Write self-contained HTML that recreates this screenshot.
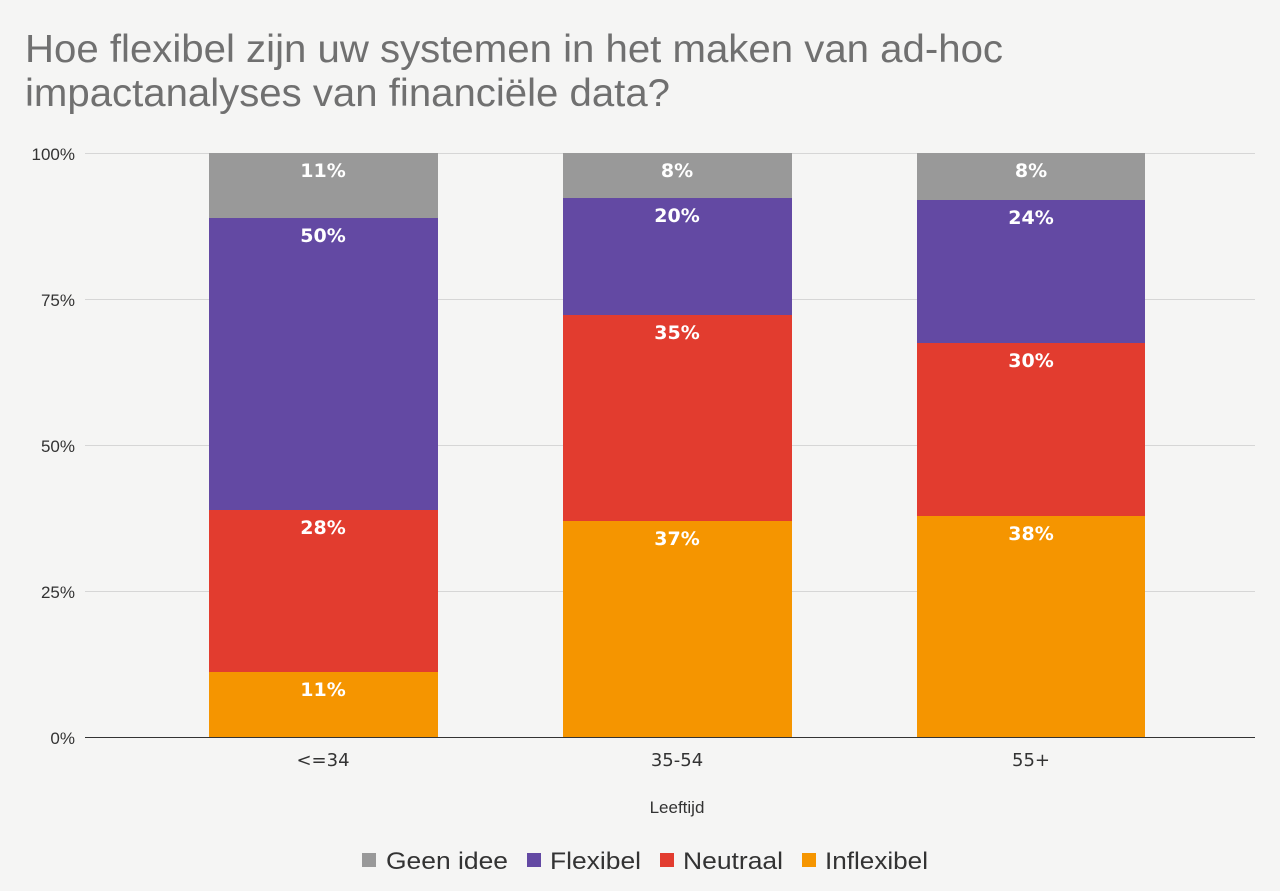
<!DOCTYPE html>
<html><head><meta charset="utf-8"><style>
body{margin:0;background:#f5f5f4;}
svg{display:block}
</style></head><body>
<svg width="1280" height="891" xmlns="http://www.w3.org/2000/svg" font-family="Liberation Sans, DejaVu Sans, sans-serif">
<rect width="1280" height="891" fill="#f5f5f4"/>
<text x="25" y="62" font-size="39" fill="#707070" textLength="978" lengthAdjust="spacingAndGlyphs">Hoe flexibel zijn uw systemen in het maken van ad-hoc</text>
<text x="25" y="106" font-size="39" fill="#707070" textLength="645" lengthAdjust="spacingAndGlyphs">impactanalyses van financiële data?</text>
<g stroke="#d6d6d6" stroke-width="1">
<line x1="85" x2="1255" y1="153.5" y2="153.5"/>
<line x1="85" x2="1255" y1="299.5" y2="299.5"/>
<line x1="85" x2="1255" y1="445.5" y2="445.5"/>
<line x1="85" x2="1255" y1="591.5" y2="591.5"/>
</g>
<g font-size="17" fill="#333" text-anchor="end">
<text x="75" y="160">100%</text>
<text x="75" y="306">75%</text>
<text x="75" y="452">50%</text>
<text x="75" y="598">25%</text>
<text x="75" y="744">0%</text>
</g>
<rect x="209" y="153" width="229" height="65" fill="#999999"/>
<rect x="209" y="218" width="229" height="292" fill="#6349a3"/>
<rect x="209" y="510" width="229" height="162" fill="#e23c2f"/>
<rect x="209" y="672" width="229" height="65" fill="#f59500"/>
<rect x="563" y="153" width="229" height="45" fill="#999999"/>
<rect x="563" y="198" width="229" height="117" fill="#6349a3"/>
<rect x="563" y="315" width="229" height="206" fill="#e23c2f"/>
<rect x="563" y="521" width="229" height="216" fill="#f59500"/>
<rect x="917" y="153" width="228" height="47" fill="#999999"/>
<rect x="917" y="200" width="228" height="143" fill="#6349a3"/>
<rect x="917" y="343" width="228" height="173" fill="#e23c2f"/>
<rect x="917" y="516" width="228" height="221" fill="#f59500"/>
<line x1="85" x2="1255" y1="737.5" y2="737.5" stroke="#333" stroke-width="1"/>
<g font-size="19" fill="#fff" text-anchor="middle" font-weight="bold" font-family="DejaVu Sans, sans-serif">
<text x="323" y="177">11%</text>
<text x="323" y="242">50%</text>
<text x="323" y="534">28%</text>
<text x="323" y="696">11%</text>
<text x="677" y="177">8%</text>
<text x="677" y="222">20%</text>
<text x="677" y="339">35%</text>
<text x="677" y="545">37%</text>
<text x="1031" y="177">8%</text>
<text x="1031" y="224">24%</text>
<text x="1031" y="367">30%</text>
<text x="1031" y="540">38%</text>
</g>
<g font-size="18" fill="#333" text-anchor="middle" font-family="DejaVu Sans, sans-serif">
<text x="323" y="766">&lt;=34</text>
<text x="677" y="766">35-54</text>
<text x="1031" y="766">55+</text>
</g>
<text x="677" y="813" font-size="17" fill="#333" text-anchor="middle">Leeftijd</text>
<g font-size="24" fill="#333">
<rect x="362" y="853" width="14" height="14" fill="#999999"/>
<text x="386" y="869" textLength="122" lengthAdjust="spacingAndGlyphs">Geen idee</text>
<rect x="527" y="853" width="14" height="14" fill="#6349a3"/>
<text x="550" y="869" textLength="91" lengthAdjust="spacingAndGlyphs">Flexibel</text>
<rect x="660" y="853" width="14" height="14" fill="#e23c2f"/>
<text x="683" y="869" textLength="100" lengthAdjust="spacingAndGlyphs">Neutraal</text>
<rect x="802" y="853" width="14" height="14" fill="#f59500"/>
<text x="825" y="869" textLength="103" lengthAdjust="spacingAndGlyphs">Inflexibel</text>
</g>
</svg>
</body></html>
